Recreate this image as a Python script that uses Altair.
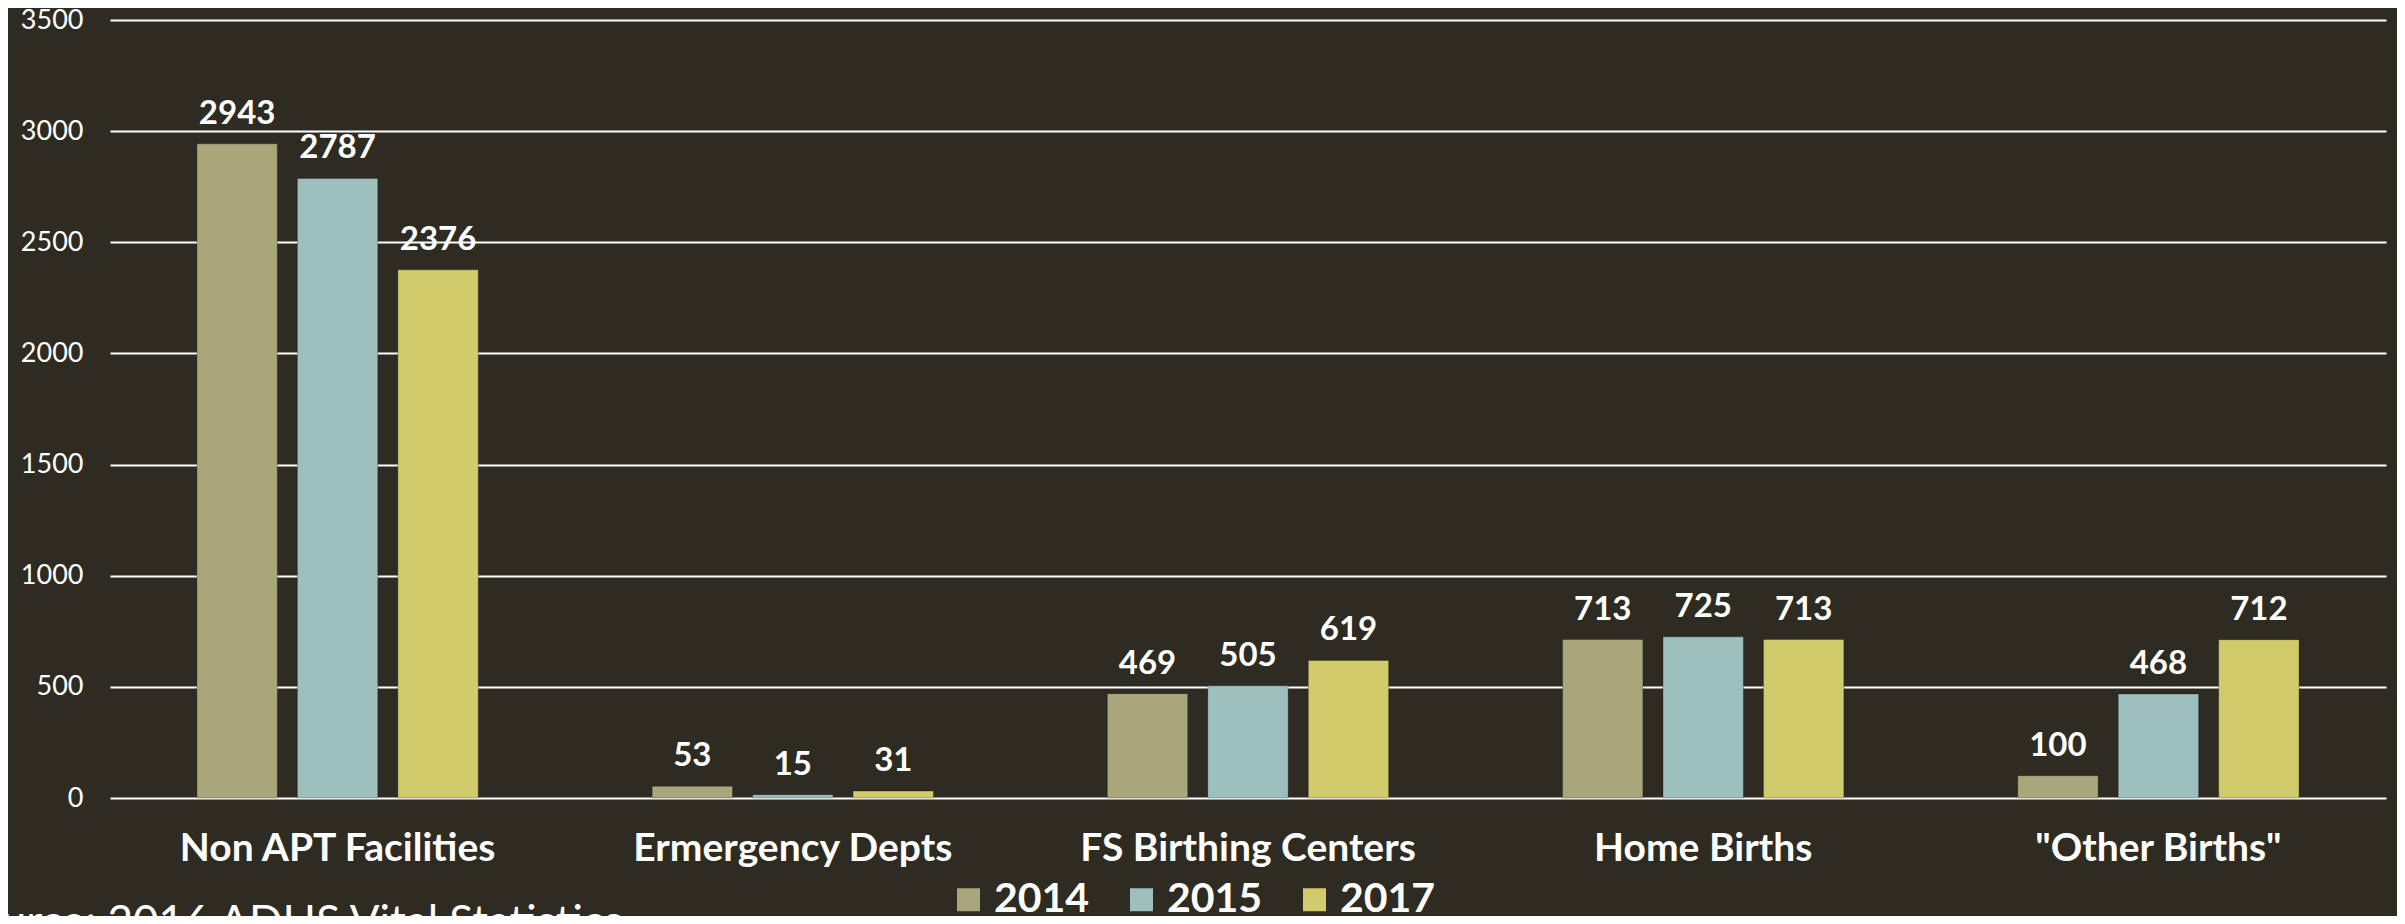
import altair as alt
import pandas as pd

categories = ["Non APT Facilities", "Ermergency Depts", "FS Birthing Centers", "Home Births", '"Other Births"']
years = ["2014", "2015", "2017"]
values_2014 = [2943, 53, 469, 713, 100]
values_2015 = [2787, 15, 505, 725, 468]
values_2017 = [2376, 31, 619, 713, 712]
y_ticks = [0, 500, 1000, 1500, 2000, 2500, 3000, 3500]
colors = ["#a9a67c", "#9dbfbe", "#d2cb6c"]
source_note = "Source: 2016 ADHS Vital Statistics"

rows = []
for yr, vals in zip(years, [values_2014, values_2015, values_2017]):
    for c, v in zip(categories, vals):
        rows.append({"category": c, "year": yr, "births": v})
df = pd.DataFrame(rows)

FONT = "Lato"
BG = "#2e2b22"

x_enc = alt.X(
    "category:N",
    sort=categories,
    scale=alt.Scale(paddingInner=0.382, paddingOuter=0.191),
    axis=alt.Axis(
        title=None, labelAngle=0, ticks=False, domain=False,
        labelFontSize=39, labelFontWeight="bold", labelColor="#ffffff",
        labelPadding=31, labelFont=FONT, labelLimit=600,
    ),
)
xoff_enc = alt.XOffset("year:N", sort=years, scale=alt.Scale(paddingInner=0.2, paddingOuter=0))
y_enc = alt.Y(
    "births:Q",
    scale=alt.Scale(domain=[0, 3500], nice=False),
    axis=alt.Axis(
        values=y_ticks, format="d", title=None, ticks=False, domain=False, grid=True,
        gridColor="#ffffff", gridWidth=2, labelFontSize=27,
        labelColor="#ffffff", labelPadding=27, labelFont=FONT,
    ),
)
color_enc = alt.Color(
    "year:N",
    sort=years,
    scale=alt.Scale(domain=years, range=colors),
    legend=alt.Legend(
        orient="none", legendX=838, legendY=859, direction="horizontal",
        title=None, symbolType="square", symbolSize=529, symbolStrokeWidth=0,
        symbolOpacity=1, labelFontSize=41, labelFontWeight="bold",
        labelColor="#ffffff", labelFont=FONT, labelOffset=5,
        columnPadding=31, padding=0, labelLimit=300,
    ),
)

base = alt.Chart(df)

bars = base.mark_bar(stroke="#000000", strokeOpacity=0.25, strokeWidth=1).encode(
    x=x_enc, xOffset=xoff_enc, y=y_enc, color=color_enc
)

labels = base.mark_text(
    font=FONT, fontSize=33, fontWeight="bold", color="#ffffff",
    baseline="alphabetic", dy=-20,
).encode(x=x_enc, xOffset=xoff_enc, y=y_enc, text=alt.Text("births:Q"))

note = alt.Chart(pd.DataFrame({"note": [source_note]})).mark_text(
    font=FONT, fontSize=44, color="#ffffff", align="left", baseline="alphabetic",
).encode(x=alt.value(-157), y=alt.value(917), text="note:N")

chart = alt.layer(bars, labels, note).properties(
    width=2276,
    height=778,
    autosize=alt.AutoSizeParams(type="none"),
    padding={"left": 102, "top": 12, "right": 11, "bottom": 118},
    background=BG,
).configure_view(stroke=None)

chart.save("out.html", embed_options={"renderer": "svg", "actions": False})
